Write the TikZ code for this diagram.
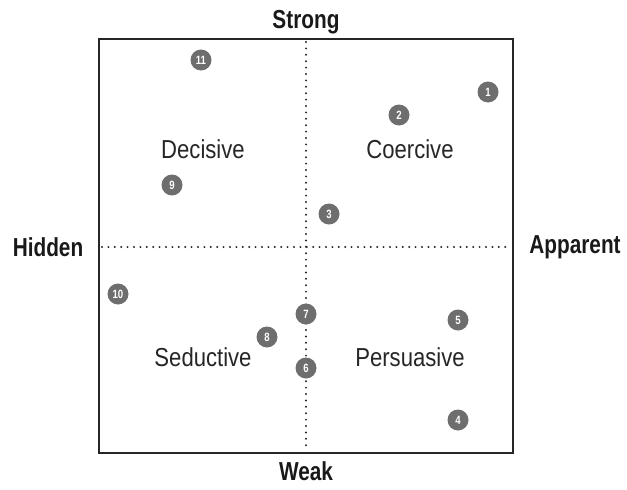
\documentclass[tikz,border=0pt]{standalone}
\usepackage{fontspec}
\setmainfont{Liberation Sans}[FakeStretch=0.85, BoldFeatures={FakeStretch=0.8}]
\usepackage{tikz}

\begin{document}
\begin{tikzpicture}[x=1pt,y=-1pt]
\tikzset{
  quad/.style={font=\fontsize{26}{26}\selectfont, text=black!85},
  axis/.style={font=\fontsize{26}{26}\selectfont\bfseries, text=black!90},
  dot/.style={circle, fill=black!57, text=white, inner sep=0pt, minimum size=21pt,
    font=\fontsize{12}{12}\selectfont\bfseries},
  grid/.style={line width=2.2pt, dash pattern=on 0pt off 6.4pt, line cap=round, black!85}
}
\useasboundingbox (0,0) rectangle (627,490);
\draw [line width=2.2pt, black!85] (99,39) rectangle (513,453);
\coordinate (top) at (306,42);
\coordinate (bot) at (306,450);
\coordinate (lft) at (102,247);
\coordinate (rgt) at (510,247);
\draw [grid] (top) -- (bot);
\draw [grid] (lft) -- (rgt);
% axis labels
\node [axis] (strong) at (306,22) {Strong};
\node [axis] (weak) at (306,471) {Weak};
\node [axis] (hidden) at (48,247) {Hidden};
\node [axis] (apparent) at (575,247) {Apparent};
% quadrants
\node [quad] (decisive) at (203,149) {Decisive};
\node [quad] (coercive) at (410,149) {Coercive};
\node [quad] (seductive) at (203,357) {Seductive};
\node [quad] (persuasive) at (410,357) {Persuasive};
% numbered cases
\node [dot] (n1) at (488,92) {1};
\node [dot] (n2) at (399,115) {2};
\node [dot] (n3) at (329,214) {3};
\node [dot] (n4) at (458,420) {4};
\node [dot] (n5) at (458,320) {5};
\node [dot] (n6) at (306,368) {6};
\node [dot] (n7) at (306,314) {7};
\node [dot] (n8) at (267,337) {8};
\node [dot] (n9) at (172,185) {9};
\node [dot] (n10) at (118,294) {10};
\node [dot] (n11) at (201,60) {11};
\end{tikzpicture}
\end{document}
